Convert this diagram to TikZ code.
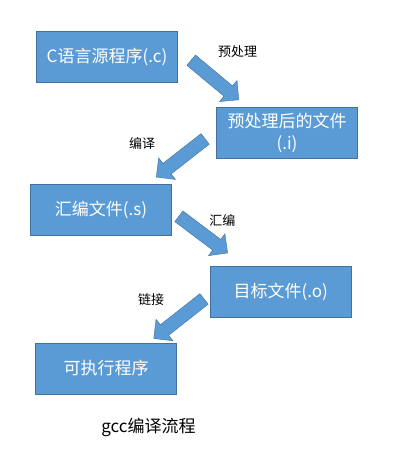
\documentclass[tikz,border=0pt]{standalone}
\usepackage{fontspec}
\setmainfont{Noto Sans CJK SC}
\usepackage{xcolor}
\usepackage{tikz}
\usetikzlibrary{shapes.arrows}
\definecolor{BoxBlue}{RGB}{91,155,213}
\definecolor{EdgeBlue}{RGB}{65,113,156}
\tikzset{
    stepbox/.style={rectangle, draw=EdgeBlue, fill=BoxBlue, text=white, minimum width=141pt, minimum height=51pt, inner sep=0pt, align=center, font=\fontsize{17}{22}\selectfont},
    flowarrow/.style={single arrow, draw=EdgeBlue, fill=BoxBlue, single arrow head extend=7pt, inner xsep=0pt, inner ysep=6.5pt, sloped, allow upside down, pos=0, anchor=tail},
    steplabel/.style={text=black, font=\fontsize{13}{15}\selectfont}
}
\begin{document}
\begin{tikzpicture}[x=1pt, y=-1pt]
    \useasboundingbox (0,0) rectangle (416,468);
    % Các khối
    \node[stepbox] (src) at (107,57) {C语言源程序(.c)};
    \node[stepbox] (pre) at (287,132.7) {预处理后的文件\\(.i)};
    \node[stepbox] (asm) at (101,209.7) {汇编文件(.s)};
    \node[stepbox] (obj) at (280.7,291.8) {目标文件(.o)};
    \node[stepbox] (exe) at (106,368.5) {可执行程序};
    % Đầu và cuối mũi tên
    \coordinate (t1) at (191,60);    \coordinate (h1) at (239,100);
    \coordinate (t2) at (205.3,138.8); \coordinate (h2) at (156,177.3);
    \coordinate (t3) at (178.7,216.2); \coordinate (h3) at (227.3,252.7);
    \coordinate (t4) at (204.2,298.8); \coordinate (h4) at (154,338.3);
    % Mũi tên khối
    \path (t1) -- (h1) node[flowarrow, minimum height=62pt] {};
    \path (t2) -- (h2) node[flowarrow, minimum height=62pt] {};
    \path (t3) -- (h3) node[flowarrow, minimum height=61pt] {};
    \path (t4) -- (h4) node[flowarrow, minimum height=64pt] {};
    % Nhãn
    \node[steplabel] (l1) at (237.5,52) {预处理};
    \node[steplabel] (l2) at (142,144) {编译};
    \node[steplabel] (l3) at (222.3,220.5) {汇编};
    \node[steplabel] (l4) at (151,300) {链接};
    \node[text=black, font=\fontsize{17}{20}\selectfont] (cap) at (148.5,427.7) {gcc编译流程};
\end{tikzpicture}
\end{document}
